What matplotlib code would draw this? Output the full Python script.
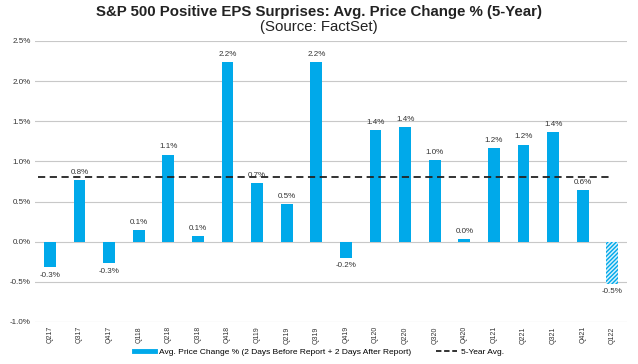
import matplotlib.pyplot as plt
from matplotlib.lines import Line2D

plt.rcParams['font.family'] = ['Liberation Sans', 'DejaVu Sans']

quarters = ['Q217', 'Q317', 'Q417', 'Q118', 'Q218', 'Q318', 'Q418', 'Q119', 'Q219', 'Q319',
            'Q419', 'Q120', 'Q220', 'Q320', 'Q420', 'Q121', 'Q221', 'Q321', 'Q421', 'Q122']
price_change = [-0.32, 0.77, -0.27, 0.145, 1.085, 0.067, 2.24, 0.725, 0.468, 2.236,
                -0.20, 1.39, 1.425, 1.015, 0.034, 1.164, 1.21, 1.37, 0.646, -0.525]
five_year_avg = 0.8
yticks = [-1.0, -0.5, 0.0, 0.5, 1.0, 1.5, 2.0, 2.5]

blue = '#00A9EA'

fig = plt.figure(figsize=(6.38, 3.64), dpi=100)
ax = fig.add_axes([0.055, 0.1154, 0.928, 0.772])

x = list(range(len(quarters)))
solid_x = x[:-1]
ax.bar(solid_x, price_change[:-1], width=0.4, color=blue, zorder=2)
# latest quarter is still in progress -> hatched
ax.bar(x[-1], price_change[-1], width=0.4, color='#d6f0fb', edgecolor=blue,
       hatch='////////', linewidth=0, zorder=2)

ax.hlines(five_year_avg, -0.4, 18.9, colors='#222222', linestyles=(0, (4, 2.5)),
          linewidth=1.3, zorder=3)

for xi, v in zip(x, price_change):
    off = 3 if v >= 0 else -3
    va = 'bottom' if v >= 0 else 'top'
    ax.annotate(f'{v:.1f}%', (xi, v), xytext=(0, off), textcoords='offset points',
                ha='center', va=va, fontsize=5.8, color='#333333')

ax.set_xlim(-0.5, len(quarters) - 0.5)
ax.set_ylim(-1.0, 2.5)
ax.set_yticks(yticks)
ax.set_yticklabels([f'{t:.1f}%' for t in yticks], fontsize=5.8, color='#333333')
ax.set_xticks(x)
ax.set_xticklabels(quarters, rotation=90, fontsize=5, color='#333333')
ax.tick_params(length=0, pad=3)
ax.grid(True, axis='y', color='#c8c8c8', linewidth=0.8, zorder=0)
for s in ax.spines.values():
    s.set_visible(False)

fig.text(0.5, 0.966, 'S&P 500 Positive EPS Surprises: Avg. Price Change % (5-Year)',
         ha='center', va='center', fontsize=10.8, fontweight='bold', color='#222222')
fig.text(0.5, 0.925, '(Source: FactSet)', ha='center', va='center', fontsize=10.8,
         color='#222222')

handles = [Line2D([0], [0], color=blue, linewidth=3.5),
           Line2D([0], [0], color='#222222', linewidth=1.3, linestyle=(0, (3, 1.5)))]
fig.legend(handles, ['Avg. Price Change % (2 Days Before Report + 2 Days After Report)',
                     '5-Year Avg.'],
           loc='center', bbox_to_anchor=(0.5, 0.033), ncol=2, frameon=False,
           fontsize=6, handlelength=2.5, columnspacing=3, handletextpad=0.5)

fig.savefig('out.png', dpi=100, facecolor='white')
